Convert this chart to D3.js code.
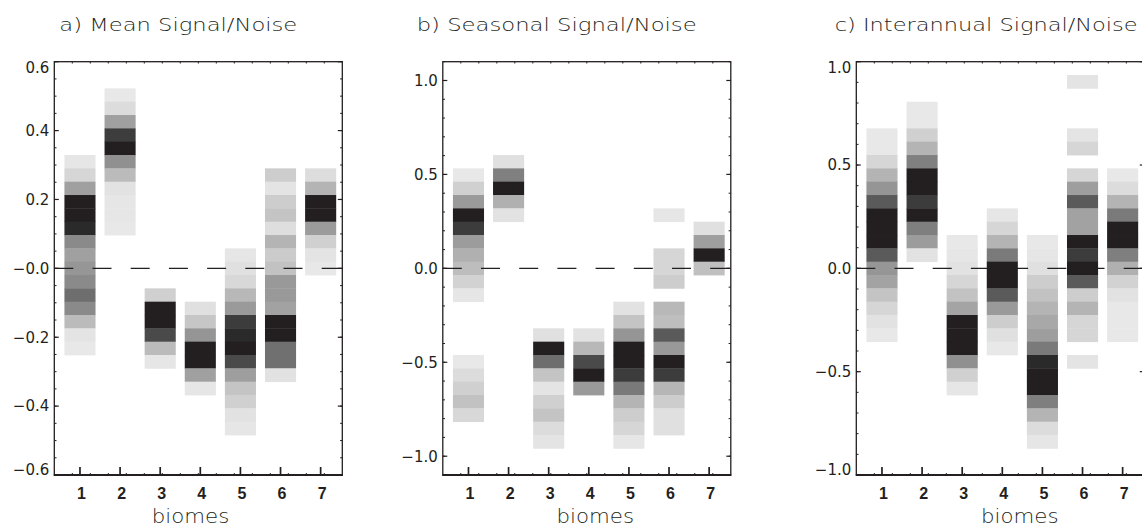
<!DOCTYPE html>
<html><head><meta charset="utf-8">
<script src="https://cdn.jsdelivr.net/npm/d3@7"></script>
<style>body{margin:0;background:#fff}svg{display:block}</style>
</head><body>
<svg id="chart" width="1142" height="528"></svg>
<script>
// ---------- data ----------
const biomes = [1, 2, 3, 4, 5, 6, 7];
const nBins = 31;               // bins per biome column, spanning the y range
const xTickLabels = ["1", "2", "3", "4", "5", "6", "7"];
const xLabel = "biomes";

// panel a
const titleA = "a) Mean Signal/Noise";
const yDomainA = [-0.6, 0.6];
const yTicksA = [-0.6, -0.4, -0.2, 0, 0.2, 0.4, 0.6];
const yTickLabelsA = ["−0.6", "−0.4", "−0.2", "−0.0", "0.2", "0.4", "0.6"];
const yMinorA = 0.05;
// first occupied bin (counted from the top) for each biome
const topBinA = [7, 2, 17, 18, 14, 8, 8];
// grey level (0 dark .. 255 white) of each bin, from top down; null = empty
const shadesA = [
  [230, 214, 160, 35, 35, 42, 138, 160, 150, 138, 110, 138, 187, 228, 232],
  [232, 220, 160, 61, 35, 144, 187, 226, 230, 230, 232],
  [208, 35, 35, 74, 187, 230],
  [224, 198, 149, 35, 35, 160, 230],
  [230, 224, 216, 184, 154, 60, 42, 35, 74, 158, 196, 208, 226, 230],
  [205, 228, 205, 196, 222, 180, 203, 194, 153, 153, 162, 35, 35, 112, 112, 226],
  [221, 180, 35, 35, 155, 208, 228, 232]
];

// panel b
const titleB = "b) Seasonal Signal/Noise";
const yDomainB = [-1.1, 1.1];
const yTicksB = [-1.0, -0.5, 0, 0.5, 1.0];
const yTickLabelsB = ["−1.0", "−0.5", "0.0", "0.5", "1.0"];
const yMinorB = 0.1;
const topBinB = [8, 7, 20, 20, 18, 11, 12];
const shadesB = [
  [232, 208, 154, 35, 60, 156, 176, 189, 210, 230, null, null, null, null, 232, 220, 208, 194, 216],
  [224, 128, 35, 176, 226],
  [224, 35, 110, 196, 228, 208, 196, 220, 228],
  [226, 184, 74, 35, 154],
  [226, 196, 149, 35, 35, 60, 121, 180, 205, 214, 230],
  [230, null, null, 214, 214, 205, null, 184, 190, 90, 153, 35, 60, 182, 205, 224, 224],
  [224, 159, 35, 192]
];

// panel c
const titleC = "c) Interannual Signal/Noise";
const yDomainC = [-1.0, 1.0];
const yTicksC = [-1.0, -0.5, 0, 0.5, 1.0];
const yTickLabelsC = ["−1.0", "−0.5", "0.0", "0.5", "1.0"];
const yMinorC = 0.1;
const topBinC = [5, 3, 13, 11, 13, 1, 8];
const shadesC = [
  [232, 232, 214, 180, 149, 90, 35, 35, 35, 90, 150, 163, 196, 214, 226, 232],
  [232, 232, 208, 180, 128, 35, 35, 60, 35, 127, 156, 226],
  [232, 230, 226, 214, 194, 164, 35, 35, 35, 144, 208, 230],
  [230, 214, 180, 122, 35, 35, 90, 154, 205, 224, 232],
  [232, 230, 224, 205, 194, 180, 168, 158, 122, 42, 35, 35, 127, 180, 220, 230],
  [228, null, null, null, 228, 214, null, 214, 158, 90, 162, 162, 35, 60, 35, 90, 205, 180, 214, 214, null, 228],
  [232, 220, 180, 122, 35, 35, 127, 176, 210, 226, 232, 232, 232]
];

// ---------- layout ----------
const INK = "#231f20";
const plotTop = 61.7, plotBottom = 475, plotW = 288;
const xDomain = [0.36, 7.54];
const cellHalf = 0.3875;

const panels = [
  {title: titleA, dom: yDomainA, ticks: yTicksA, labels: yTickLabelsA, minor: yMinorA, top: topBinA, shades: shadesA,
   left: 54.3, titleX: 178.3, titleW: 238, xlabX: 190.5},
  {title: titleB, dom: yDomainB, ticks: yTicksB, labels: yTickLabelsB, minor: yMinorB, top: topBinB, shades: shadesB,
   left: 442.8, titleX: 556.7, titleW: 280, xlabX: 595.3},
  {title: titleC, dom: yDomainC, ticks: yTicksC, labels: yTickLabelsC, minor: yMinorC, top: topBinC, shades: shadesC,
   left: 856.3, titleX: 986.2, titleW: 303, xlabX: 1019.8}
];

const svg = d3.select("#chart");
svg.append("rect").attr("width", 1142).attr("height", 528).attr("fill", "#fff");

function shadeColor(s) {
  return s <= 40 ? INK : d3.rgb(s, s, s).toString();
}

panels.forEach(p => {
  const g = svg.append("g");
  const x = d3.scaleLinear().domain(xDomain).range([p.left, p.left + plotW]);
  const y = d3.scaleLinear().domain(p.dom).range([plotBottom, plotTop]);
  const bw = (p.dom[1] - p.dom[0]) / nBins;

  // cells
  const cells = [];
  biomes.forEach((b, i) => {
    p.shades[i].forEach((s, r) => {
      if (s === null) return;
      const j = p.top[i] + r;
      const hi = p.dom[1] - j * bw;
      cells.push({b, hi, lo: hi - bw, s});
    });
  });
  g.append("g").selectAll("rect").data(cells).join("rect")
    .attr("x", d => x(d.b - cellHalf))
    .attr("width", d => x(d.b + cellHalf) - x(d.b - cellHalf))
    .attr("y", d => y(d.hi))
    .attr("height", d => y(d.lo) - y(d.hi) + 0.4)
    .attr("fill", d => shadeColor(d.s));

  // zero dashed line
  g.append("line")
    .attr("x1", x.range()[0]).attr("x2", x.range()[1])
    .attr("y1", y(0)).attr("y2", y(0))
    .attr("stroke", INK).attr("stroke-width", 1.3)
    .attr("stroke-dasharray", "19 19.2");

  // frame
  g.append("rect")
    .attr("x", x.range()[0]).attr("y", plotTop)
    .attr("width", plotW).attr("height", plotBottom - plotTop)
    .attr("fill", "none").attr("stroke", INK).attr("stroke-width", 1.3);
  g.append("line")
    .attr("x1", x.range()[0] - 0.5).attr("x2", x.range()[1] + 0.5)
    .attr("y1", plotBottom).attr("y2", plotBottom)
    .attr("stroke", INK).attr("stroke-width", 2);

  // y minor ticks
  const minorTicks = d3.range(Math.ceil(p.dom[0] / p.minor - 1e-6), Math.floor(p.dom[1] / p.minor + 1e-6) + 1)
    .map(k => k * p.minor);
  [x.range()[0], x.range()[1]].forEach((xe, side) => {
    const dir = side === 0 ? 1 : -1;
    g.append("g").selectAll("line").data(minorTicks).join("line")
      .attr("x1", xe).attr("x2", xe + dir * 2.2)
      .attr("y1", d => y(d)).attr("y2", d => y(d))
      .attr("stroke", INK).attr("stroke-width", 1);
    g.append("g").selectAll("line").data(p.ticks).join("line")
      .attr("x1", xe).attr("x2", xe + dir * 4.5)
      .attr("y1", d => y(d)).attr("y2", d => y(d))
      .attr("stroke", INK).attr("stroke-width", 1.2);
  });

  // y tick labels
  g.append("g").selectAll("text").data(p.ticks).join("text")
    .attr("x", x.range()[0] - 5)
    .attr("y", (d, i) => {
      const yy = y(d);
      if (yy - 5.5 < plotTop) return plotTop + 10.8;
      if (yy + 5.5 > plotBottom) return plotBottom;
      return yy + 5.3;
    })
    .attr("text-anchor", "end")
    .attr("font-family", "DejaVu Sans, sans-serif")
    .attr("font-size", 15)
    .attr("fill", INK)
    .text((d, i) => p.labels[i]);

  // x ticks (major, bottom)
  g.append("g").selectAll("line").data(biomes).join("line")
    .attr("x1", d => x(d)).attr("x2", d => x(d))
    .attr("y1", plotBottom).attr("y2", plotBottom - 8)
    .attr("stroke", INK).attr("stroke-width", 1.7);
  // small ticks along top and bottom
  const smallX = d3.range(1, 16).map(k => p.left + k * plotW / 16);
  g.append("g").selectAll("line").data(smallX).join("line")
    .attr("x1", d => d).attr("x2", d => d)
    .attr("y1", plotTop).attr("y2", plotTop + 1.8)
    .attr("stroke", INK).attr("stroke-width", 1);
  g.append("g").selectAll("line").data(smallX).join("line")
    .attr("x1", d => d).attr("x2", d => d)
    .attr("y1", plotBottom).attr("y2", plotBottom - 2)
    .attr("stroke", INK).attr("stroke-width", 1);

  // x tick labels
  g.append("g").selectAll("text").data(biomes).join("text")
    .attr("x", d => x(d) + 1.5)
    .attr("y", 499)
    .attr("text-anchor", "middle")
    .attr("font-family", "Liberation Sans, Arial, sans-serif")
    .attr("font-weight", "bold")
    .attr("font-size", 16)
    .attr("fill", INK)
    .text((d, i) => xTickLabels[i]);

  // axis title
  g.append("text")
    .attr("x", p.xlabX).attr("y", 522.5)
    .attr("text-anchor", "middle")
    .attr("font-family", "DejaVu Sans, sans-serif")
    .attr("font-weight", 200)
    .attr("font-size", 19)
    .attr("textLength", 77.5).attr("lengthAdjust", "spacingAndGlyphs")
    .attr("fill", INK)
    .text(xLabel);

  // panel title
  g.append("text")
    .attr("x", p.titleX).attr("y", 30.7)
    .attr("text-anchor", "middle")
    .attr("font-family", "DejaVu Sans, sans-serif")
    .attr("font-weight", 200)
    .attr("font-size", 18.5)
    .attr("textLength", p.titleW).attr("lengthAdjust", "spacingAndGlyphs")
    .attr("fill", INK)
    .text(p.title);
});
</script>
</body></html>
